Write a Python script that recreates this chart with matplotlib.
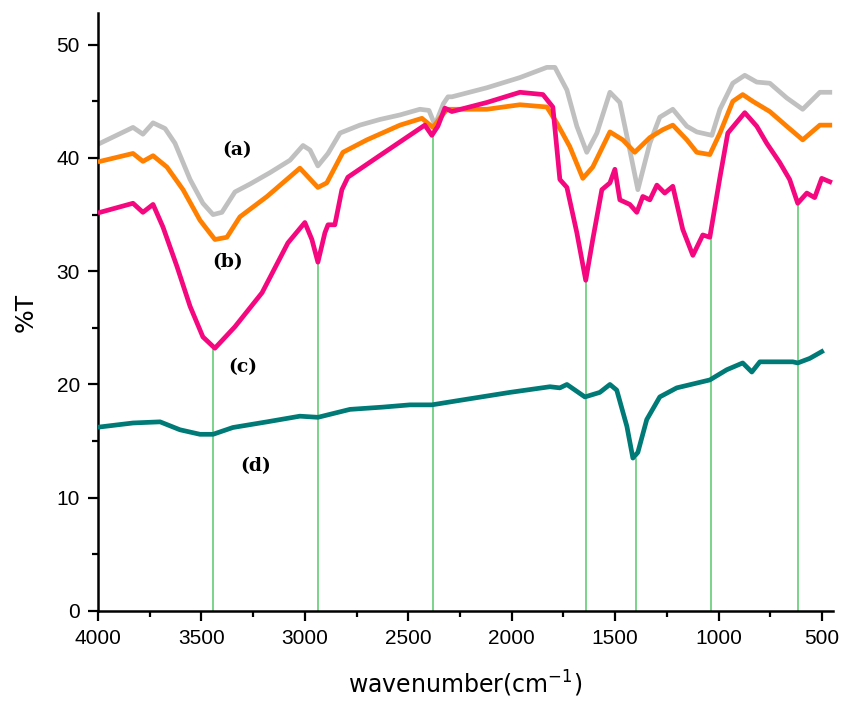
import matplotlib
matplotlib.use("Agg")
import matplotlib.pyplot as plt
from matplotlib.ticker import MultipleLocator

# (a) grey
wn_a = [3990, 3831, 3783, 3734, 3676, 3628, 3555, 3493, 3444, 3401, 3338, 3265,
        3169, 3072, 3009, 2975, 2937, 2888, 2830, 2734, 2637, 2540, 2444, 2400,
        2371, 2330, 2308, 2289, 2120, 1960, 1830, 1791, 1733, 1685, 1637, 1588,
        1525, 1477, 1429, 1390, 1332, 1284, 1221, 1153, 1105, 1032, 993, 931,
        873, 815, 752, 670, 593, 510, 462]
t_a = [41.3, 42.7, 42.1, 43.1, 42.6, 41.3, 38.1, 36.0, 35.0, 35.2, 37.0, 37.7,
       38.7, 39.8, 41.1, 40.7, 39.3, 40.4, 42.2, 42.9, 43.4, 43.8, 44.3, 44.2,
       42.9, 44.8, 45.4, 45.4, 46.2, 47.1, 48.0, 48.0, 46.0, 42.8, 40.5, 42.2,
       45.8, 44.9, 40.7, 37.2, 41.3, 43.6, 44.3, 42.8, 42.3, 42.0, 44.3, 46.6,
       47.3, 46.7, 46.6, 45.3, 44.3, 45.8, 45.8]

# (b) orange
wn_b = [3990, 3831, 3783, 3734, 3667, 3589, 3507, 3435, 3377, 3314, 3183, 3024,
        2937, 2894, 2816, 2700, 2540, 2434, 2381, 2313, 2120, 1960, 1830, 1782,
        1719, 1656, 1608, 1525, 1463, 1405, 1332, 1269, 1221, 1153, 1105, 1042,
        993, 931, 883, 834, 752, 670, 593, 510, 462]
t_b = [39.7, 40.4, 39.7, 40.2, 39.2, 37.2, 34.5, 32.8, 33.0, 34.8, 36.6, 39.1,
       37.4, 37.8, 40.5, 41.6, 42.9, 43.5, 42.7, 44.3, 44.3, 44.7, 44.5, 43.1,
       41.0, 38.2, 39.2, 42.3, 41.6, 40.5, 41.8, 42.5, 42.9, 41.6, 40.5, 40.3,
       42.2, 45.0, 45.6, 45.0, 44.1, 42.8, 41.6, 42.9, 42.9]

# (c) magenta
wn_c = [3990, 3831, 3783, 3734, 3686, 3618, 3555, 3493, 3435, 3338, 3207, 3082,
        3000, 2966, 2937, 2903, 2888, 2855, 2821, 2792, 2647, 2420, 2386, 2357,
        2323, 2289, 2120, 1960, 1849, 1801, 1767, 1733, 1685, 1642, 1608, 1564,
        1525, 1501, 1477, 1429, 1395, 1366, 1332, 1298, 1260, 1221, 1173, 1124,
        1076, 1042, 993, 955, 873, 815, 767, 704, 656, 617, 573, 535, 501, 462]
t_c = [35.2, 36.0, 35.2, 35.9, 33.9, 30.4, 26.9, 24.2, 23.2, 25.1, 28.1, 32.5,
       34.3, 32.8, 30.8, 33.4, 34.1, 34.1, 37.2, 38.3, 40.1, 42.9, 42.0, 42.8,
       44.4, 44.1, 44.9, 45.8, 45.6, 44.5, 38.1, 37.4, 33.4, 29.2, 32.8, 37.2,
       37.8, 39.0, 36.3, 35.9, 35.2, 36.6, 36.3, 37.6, 36.9, 37.5, 33.7, 31.4,
       33.2, 33.0, 38.3, 42.2, 44.0, 42.8, 41.3, 39.6, 38.1, 36.0, 36.9, 36.5,
       38.2, 37.9]

# (d) teal
wn_d = [3990, 3831, 3700, 3604, 3507, 3444, 3348, 3183, 3024, 2937, 2782, 2623,
        2492, 2386, 2250, 2009, 1815, 1767, 1733, 1646, 1574, 1525, 1492, 1443,
        1414, 1390, 1347, 1284, 1202, 1042, 960, 883, 839, 800, 641, 617, 559, 501]
t_d = [16.25, 16.6, 16.7, 16.0, 15.6, 15.6, 16.2, 16.7, 17.2, 17.1, 17.8, 18.0,
       18.2, 18.2, 18.6, 19.3, 19.8, 19.7, 20.0, 18.9, 19.3, 20.0, 19.5, 16.3,
       13.5, 14.0, 16.9, 18.9, 19.7, 20.4, 21.3, 21.9, 21.1, 22.0, 22.0, 21.9,
       22.3, 22.9]

# green marker lines: wavenumber and height
peak_wn = [3444, 2937, 2381, 1642, 1400, 1034, 618]
peak_top = [23.2, 30.8, 42.3, 29.2, 13.4, 33.0, 36.0]

labels = ["(a)", "(b)", "(c)", "(d)"]
label_x = [3328, 3372, 3299, 3236]
label_y = [40.7, 30.8, 21.55, 12.8]

fig = plt.figure(figsize=(8.43, 7.03), dpi=100)
ax = fig.add_axes([0.1163, 0.1309, 0.8717, 0.8506])

for w, top in zip(peak_wn, peak_top):
    ax.plot([w, w], [0, top], color="#66cc77", lw=1.2, zorder=1)

ax.plot(wn_a, t_a, color="#c0c0c0", lw=3.4, zorder=2)
ax.plot(wn_b, t_b, color="#ff8000", lw=3.4, zorder=3)
ax.plot(wn_c, t_c, color="#f5077f", lw=3.4, zorder=4)
ax.plot(wn_d, t_d, color="#007a76", lw=3.4, zorder=4)

for s, x, y in zip(labels, label_x, label_y):
    ax.text(x, y, s, ha="center", va="center", fontsize=13.5,
            fontweight="bold", family="DejaVu Serif")

ax.set_xlim(4000, 447)
ax.set_ylim(0, 52.8)
ax.xaxis.set_major_locator(MultipleLocator(500))
ax.xaxis.set_minor_locator(MultipleLocator(250))
ax.yaxis.set_major_locator(MultipleLocator(10))
ax.yaxis.set_minor_locator(MultipleLocator(5))

for side in ["top", "right"]:
    ax.spines[side].set_visible(False)
for side in ["left", "bottom"]:
    ax.spines[side].set_linewidth(1.8)

ax.tick_params(which="major", direction="out", length=7, width=1.6,
               labelsize=15, pad=6)
ax.tick_params(which="minor", direction="out", length=4, width=1.6)
for lab in ax.get_xticklabels() + ax.get_yticklabels():
    lab.set_family("Liberation Sans")

ax.set_xlabel("wavenumber(cm$^{-1}$)", fontsize=17, labelpad=15)
ax.set_ylabel("%T", fontsize=18, labelpad=14)

fig.savefig("out.png", dpi=100)
